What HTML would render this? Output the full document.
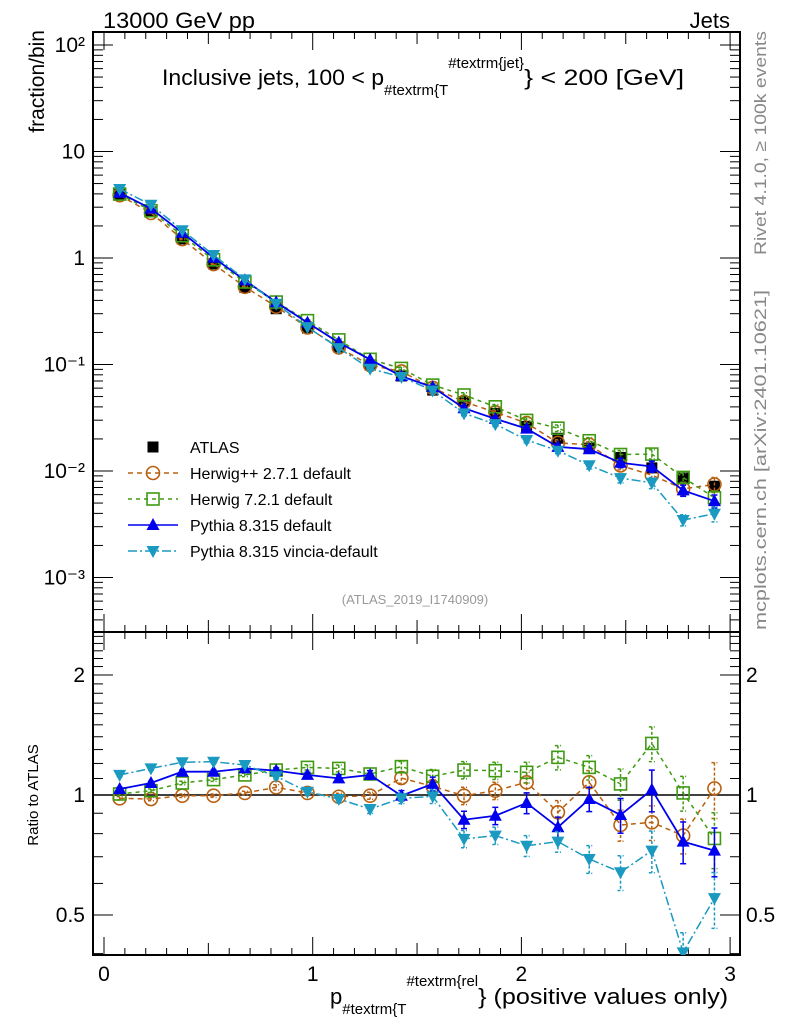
<!DOCTYPE html>
<html><head><meta charset="utf-8">
<style>
html,body{margin:0;padding:0;background:#fff;}
svg{display:block;font-family:"Liberation Sans","DejaVu Sans",sans-serif;}
</style></head>
<body>
<svg id="chart" width="786" height="1024" viewBox="0 0 786 1024">
<g id="root"></g>
<text x="103" y="28" font-size="22" textLength="152" lengthAdjust="spacingAndGlyphs">13000 GeV pp</text>
<text x="730" y="28" font-size="22" text-anchor="end">Jets</text>
<text x="162" y="85" font-size="22"><tspan textLength="222" lengthAdjust="spacingAndGlyphs">Inclusive jets, 100 &lt; p</tspan><tspan font-size="15" dy="10">#textrm{T</tspan><tspan font-size="15" dy="-27">#textrm{jet}</tspan><tspan dy="17" textLength="160" lengthAdjust="spacingAndGlyphs">} &lt; 200 [GeV]</tspan></text>
<text x="415" y="604" font-size="13" fill="#999" text-anchor="middle">(ATLAS_2019_I1740909)</text>
<text transform="translate(44,30) rotate(-90)" font-size="21" text-anchor="end">fraction/bin</text>
<text transform="translate(38,795) rotate(-90)" font-size="15" text-anchor="middle">Ratio to ATLAS</text>
<text x="330" y="1004" font-size="22">p<tspan font-size="15" dy="10">#textrm{T</tspan><tspan font-size="15" dy="-28">#textrm{rel</tspan><tspan dy="18" textLength="250" lengthAdjust="spacingAndGlyphs">} (positive values only)</tspan></text>
<text transform="translate(766,31) rotate(-90)" font-size="17" fill="#888" text-anchor="end" textLength="224" lengthAdjust="spacingAndGlyphs">Rivet 4.1.0, ≥ 100k events</text>
<text transform="translate(766,290) rotate(-90)" font-size="17" fill="#888" text-anchor="end" textLength="340" lengthAdjust="spacingAndGlyphs">mcplots.cern.ch [arXiv:2401.10621]</text>
</svg>
<script>
const binCenters=[0.075,0.225,0.375,0.525,0.675,0.825,0.975,1.125,1.275,1.425,1.575,1.725,1.875,2.025,2.175,2.325,2.475,2.625,2.775,2.925];
const atlasValues=[3.96,2.71,1.51,0.88,0.53,0.334,0.22,0.146,0.099,0.078,0.0575,0.0448,0.0348,0.0262,0.0203,0.0164,0.0134,0.0107,0.0086,0.0072];
const herwigppRatio=[0.981,0.977,0.996,0.996,1.012,1.045,1.012,0.99,0.996,1.103,1.051,0.996,1.025,1.076,0.905,1.076,0.841,0.854,0.791,1.039];
const herwigppErr=[0.01,0.01,0.01,0.01,0.01,0.015,0.015,0.02,0.02,0.03,0.04,0.05,0.05,0.06,0.07,0.07,0.09,0.1,0.1,0.16];
const herwig7Ratio=[1.006,1.025,1.072,1.093,1.123,1.155,1.173,1.166,1.129,1.178,1.114,1.155,1.151,1.14,1.243,1.173,1.066,1.347,1.012,0.778];
const herwig7Err=[0.01,0.01,0.01,0.01,0.01,0.015,0.015,0.02,0.02,0.03,0.04,0.05,0.05,0.06,0.07,0.07,0.09,0.1,0.1,0.16];
const pythiaRatio=[1.035,1.072,1.144,1.144,1.166,1.151,1.123,1.101,1.123,0.996,1.066,0.867,0.887,0.955,0.83,0.977,0.891,1.031,0.764,0.725];
const pythiaErr=[0.01,0.01,0.01,0.01,0.01,0.015,0.015,0.02,0.025,0.03,0.04,0.05,0.05,0.06,0.06,0.07,0.1,0.12,0.12,0.14];
const vinciaRatio=[1.123,1.166,1.208,1.212,1.189,1.114,1.019,0.977,0.922,0.981,0.992,0.776,0.791,0.746,0.764,0.691,0.64,0.725,0.403,0.551];
const vinciaErr=[0.01,0.01,0.01,0.01,0.01,0.015,0.015,0.02,0.025,0.03,0.04,0.05,0.05,0.06,0.06,0.08,0.1,0.12,0.12,0.16];
const mainTickLabels=["10\u207B\u00B3","10\u207B\u00B2","10\u207B\u00B9","1","10","10\u00B2"];
const ratioTickValues=[0.5,1,2];
const ratioTickLabels=["0.5","1","2"];
const xTickValues=[0,1,2,3];
const xTickLabels=["0","1","2","3"];

const NS="http://www.w3.org/2000/svg";
const root=document.getElementById('root');
function el(tag,attrs,parent,text){const e=document.createElementNS(NS,tag);for(const k in attrs)e.setAttribute(k,attrs[k]);if(text!==undefined)e.textContent=text;(parent||root).appendChild(e);return e;}

const L=93,R=740,T=32,MB=632,RB=955;
const X0=104,XS=208.7;
function xs(v){return X0+v*XS;}
function ym(v){return 258-106.5*Math.log10(v);}
function yr(v){return 795-398.6*Math.log10(v);}

let f1=el('rect',{x:L,y:T,width:R-L,height:MB-T,fill:'none',stroke:'#000','stroke-width':2});


let f2=el('rect',{x:L,y:MB,width:R-L,height:RB-MB,fill:'none',stroke:'#000','stroke-width':2});



const xt=el('g',{stroke:'#000','stroke-width':1});


for(let i=0;i<=30;i++){const v=i*0.1;const x=xs(v);if(x<L||x>R)continue;const maj=i%10===0,mid=i%5===0;const len=maj?18:(mid?12:7);
 el('line',{x1:x,y1:T,x2:x,y2:T+len},xt);el('line',{x1:x,y1:MB,x2:x,y2:MB-len},xt);
 el('line',{x1:x,y1:MB,x2:x,y2:MB+len},xt);el('line',{x1:x,y1:RB,x2:x,y2:RB-len},xt);}
xTickValues.forEach((v,i)=>{const t=el('text',{x:xs(v),y:981,'font-size':21,'text-anchor':'middle'},root,xTickLabels[i]);
 
 });

const yt=el('g',{stroke:'#000','stroke-width':1});


for(let d=-4;d<=2;d++){for(let m=1;m<10;m++){const v=m*Math.pow(10,d);const y=ym(v);if(y<T||y>MB)continue;const len=m===1?20:10;
 el('line',{x1:L,y1:y,x2:L+len,y2:y},yt);el('line',{x1:R,y1:y,x2:R-len,y2:y},yt);}}
mainTickLabels.forEach((lab,i)=>{const d=i-3;const y=ym(Math.pow(10,d));
 const t=el('text',{x:85,y:y+7,'font-size':21,'text-anchor':'end'},root,lab);
 
 });

for(let k=4;k<=25;k++){const v=k/10;const y=yr(v);if(y<MB||y>RB)continue;const maj=(k===5||k===10||k===20);const len=maj?20:10;
 el('line',{x1:L,y1:y,x2:L+len,y2:y},yt);el('line',{x1:R,y1:y,x2:R-len,y2:y},yt);}
ratioTickValues.forEach((v,i)=>{const y=yr(v);
 const t=el('text',{x:85,y:y+7,'font-size':21,'text-anchor':'end'},root,ratioTickLabels[i]);
 
 
 const t2=el('text',{x:746,y:y+7,'font-size':21,'text-anchor':'start'},root,ratioTickLabels[i]);
 
 });
let one=el('line',{x1:L,y1:yr(1),x2:R,y2:yr(1),stroke:'#000','stroke-width':1.5});



const defs=el('defs',{});
const c1=el('clipPath',{id:'cm'},defs);el('rect',{x:L,y:T,width:R-L,height:MB-T},c1);
const c2=el('clipPath',{id:'cr'},defs);el('rect',{x:L,y:MB,width:R-L,height:RB-MB},c2);

function marker(g,type,x,y,color){
 if(type==='sq')return el('rect',{x:x-5.5,y:y-5.5,width:11,height:11,fill:'#000'},g);
 if(type==='circ')return el('circle',{cx:x,cy:y,r:6.5,fill:'none',stroke:color,'stroke-width':1.6},g);
 if(type==='osq')return el('rect',{x:x-6,y:y-6,width:12,height:12,fill:'none',stroke:color,'stroke-width':1.6},g);
 if(type==='up')return el('polygon',{points:`${x},${y-7} ${x-6.5},${y+5} ${x+6.5},${y+5}`,fill:color},g);
 if(type==='down')return el('polygon',{points:`${x},${y+7} ${x-6.5},${y-5} ${x+6.5},${y-5}`,fill:color},g);
}
const series=[
 {name:'herwigpp',ratio:herwigppRatio,err:herwigppErr,color:'#b8600f',dash:'5,4',m:'circ'},
 {name:'herwig7',ratio:herwig7Ratio,err:herwig7Err,color:'#3f9a12',dash:'4,4',m:'osq'},
 {name:'pythia',ratio:pythiaRatio,err:pythiaErr,color:'#0000ee',dash:'',m:'up'},
 {name:'vincia',ratio:vinciaRatio,err:vinciaErr,color:'#1a9ac0',dash:'9,3,2,3',m:'down'}];

function drawSeries(s,panel){
 const fy=panel==='main'?ym:yr;
 const g=el('g',{'clip-path':panel==='main'?'url(#cm)':'url(#cr)'});
 
 
 const vals=s.ratio.map((r,i)=>panel==='main'?r*atlasValues[i]:r);
 const pts=vals.map((v,i)=>xs(binCenters[i])+','+fy(v)).join(' ');
 const ln=el('polyline',{points:pts,fill:'none',stroke:s.color,'stroke-width':s.dash?1.5:1.8,'stroke-dasharray':s.dash},g);
 
 
 vals.forEach((v,i)=>{const x=xs(binCenters[i]);const e=s.err[i]*v;
  const eb=el('g',{stroke:s.color,'stroke-width':1.5,'stroke-dasharray':s.dash?'3,2':''},g);
  
  
  el('line',{x1:x,y1:fy(v+e),x2:x,y2:fy(Math.max(v-e,1e-6))},eb);
  el('line',{x1:x-3,y1:fy(v+e),x2:x+3,y2:fy(v+e)},eb);el('line',{x1:x-3,y1:fy(v-e),x2:x+3,y2:fy(v-e)},eb);
  const mk=marker(g,s.m,x,fy(v),s.color);
  
  });
}
const ga=el('g',{'clip-path':'url(#cm)'});


atlasValues.forEach((v,i)=>{const mk=marker(ga,'sq',xs(binCenters[i]),ym(v),'#000');
 
 });
series.forEach(s=>{drawSeries(s,'main');drawSeries(s,'ratio');});

const lg=el('g',{});


const legTexts=['ATLAS','Herwig++ 2.7.1 default','Herwig 7.2.1 default','Pythia 8.315 default','Pythia 8.315 vincia-default'];
legTexts.forEach((t,i)=>{const y=447+i*26;const ge=el('g',{},lg);
 
 
 if(i===0)marker(ge,'sq',153,y,'#000');else{const s=series[i-1];
  el('line',{x1:128,y1:y,x2:178,y2:y,stroke:s.color,'stroke-width':1.5,'stroke-dasharray':s.dash},ge);marker(ge,s.m,153,y,s.color);}
 el('text',{x:190,y:y+6,'font-size':16},ge,t);});
</script>
</body></html>
